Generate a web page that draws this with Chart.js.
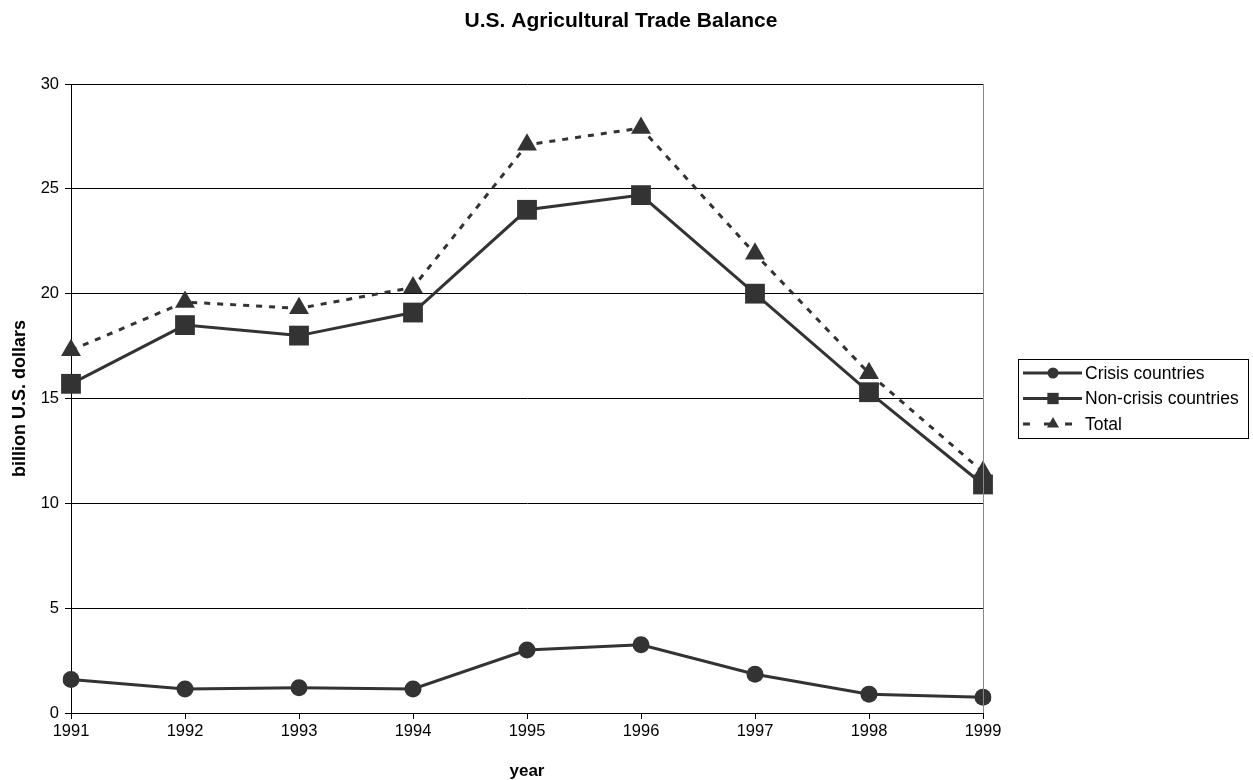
<!DOCTYPE html>
<html lang="en">
<head>
    <meta charset="UTF-8">
    <title>U.S. Agricultural Trade Balance</title>
    <script src="https://cdn.jsdelivr.net/npm/chart.js"></script>
    <style>
        html, body { margin: 0; padding: 0; background: #fff; }
        #wrap { width: 1253px; height: 780px; }
    </style>
</head>
<body>
    <div id="wrap">
        <canvas id="myChart" width="1253" height="780"></canvas>
    </div>

    <script>
        // Data
        const years = ['1991', '1992', '1993', '1994', '1995', '1996', '1997', '1998', '1999'];
        const crisis = [1.6, 1.15, 1.2, 1.15, 3.0, 3.25, 1.85, 0.9, 0.75];
        const nonCrisis = [15.7, 18.5, 18.0, 19.1, 24.0, 24.7, 20.0, 15.3, 10.9];
        const total = [17.3, 19.6, 19.3, 20.3, 27.1, 27.9, 21.9, 16.2, 11.5];
        const yTicks = [0, 5, 10, 15, 20, 25, 30];

        const dark = '#333333';
        const font = 'Liberation Sans, Arial, sans-serif';

        // Title, boxed legend (line sample with marker in the middle) and plot right border
        const extras = {
            id: 'extras',
            afterDraw(chart) {
                const ctx = chart.ctx;
                const items = [
                    { label: 'Crisis countries', style: 'circle', r: 5.5, dash: [] },
                    { label: 'Non-crisis countries', style: 'rect', r: 8, dash: [] },
                    { label: 'Total', style: 'triangle', r: 7, dash: [7, 14] }
                ];
                ctx.save();

                ctx.fillStyle = '#000';
                ctx.font = 'bold 21px ' + font;
                ctx.textAlign = 'center';
                ctx.textBaseline = 'middle';
                ctx.fillText('U.S. Agricultural Trade Balance', 621, 21);

                ctx.strokeStyle = '#000';
                ctx.lineWidth = 1;
                ctx.strokeRect(1018.5, 359.5, 230, 79);
                items.forEach((it, i) => {
                    const y = 373 + i * 25.5;
                    ctx.strokeStyle = dark;
                    ctx.fillStyle = dark;
                    ctx.lineWidth = 3;
                    ctx.setLineDash(it.dash);
                    ctx.beginPath();
                    ctx.moveTo(1023, y);
                    ctx.lineTo(1082, y);
                    ctx.stroke();
                    ctx.setLineDash([]);
                    Chart.helpers.drawPoint(ctx, { pointStyle: it.style, radius: it.r, rotation: 0, borderWidth: 0 }, 1053, y);
                    ctx.fillStyle = '#000';
                    ctx.font = '17.5px ' + font;
                    ctx.textBaseline = 'middle';
                    ctx.textAlign = 'left';
                    ctx.fillText(it.label, 1085, y + 1);
                });

                const a = chart.chartArea;
                ctx.strokeStyle = '#888';
                ctx.lineWidth = 1;
                ctx.beginPath();
                ctx.moveTo(a.right + 0.5, a.top);
                ctx.lineTo(a.right + 0.5, a.bottom);
                ctx.stroke();
                ctx.restore();
            }
        };

        const ctx = document.getElementById('myChart').getContext('2d');
        window.myChart = new Chart(ctx, {
            type: 'line',
            data: {
                labels: years,
                datasets: [
                    {
                        label: 'Crisis countries',
                        data: crisis,
                        borderColor: dark,
                        backgroundColor: dark,
                        borderWidth: 3,
                        pointStyle: 'circle',
                        pointRadius: 8.5,
                        pointBorderWidth: 0,
                        fill: false
                    },
                    {
                        label: 'Non-crisis countries',
                        data: nonCrisis,
                        borderColor: dark,
                        backgroundColor: dark,
                        borderWidth: 3,
                        pointStyle: 'rect',
                        pointRadius: 14,
                        pointBorderWidth: 0,
                        fill: false
                    },
                    {
                        label: 'Total',
                        data: total,
                        borderColor: dark,
                        backgroundColor: dark,
                        borderWidth: 3,
                        borderDash: [6, 7],
                        pointStyle: 'triangle',
                        pointRadius: 11.5,
                        pointBorderWidth: 0,
                        fill: false
                    }
                ]
            },
            options: {
                responsive: false,
                animation: false,
                layout: { padding: { left: 0, right: 270, top: 84, bottom: 0 } },
                plugins: {
                    legend: { display: false },
                    tooltip: { enabled: false },
                    title: { display: false }
                },
                scales: {
                    x: {
                        offset: false,
                        grid: { display: true, drawOnChartArea: false, color: '#000', tickLength: 6, tickColor: '#000' },
                        border: { display: true, color: '#000', width: 1 },
                        ticks: { color: '#000', font: { family: font, size: 16.5 }, padding: 3, maxRotation: 0 },
                        title: {
                            display: true, text: 'year', color: '#000',
                            font: { family: font, size: 17, weight: 'bold', lineHeight: 1 },
                            padding: { top: 4, bottom: 0 }
                        },
                        afterFit(scale) { scale.height = 67; }
                    },
                    y: {
                        min: 0,
                        max: 30,
                        afterBuildTicks(scale) { scale.ticks = yTicks.map(v => ({ value: v })); },
                        grid: { color: '#000', lineWidth: 1, tickLength: 6, tickColor: '#000' },
                        border: { display: true, color: '#000', width: 1 },
                        ticks: { color: '#000', font: { family: font, size: 16.5 }, padding: 6 },
                        title: {
                            display: true, text: 'billion U.S. dollars', color: '#000',
                            font: { family: font, size: 18, weight: 'bold', lineHeight: 1.2 },
                            padding: { top: 9, bottom: 4 }
                        },
                        afterFit(scale) { scale.width = 71; }
                    }
                }
            },
            plugins: [extras]
        });
    </script>
</body>
</html>
